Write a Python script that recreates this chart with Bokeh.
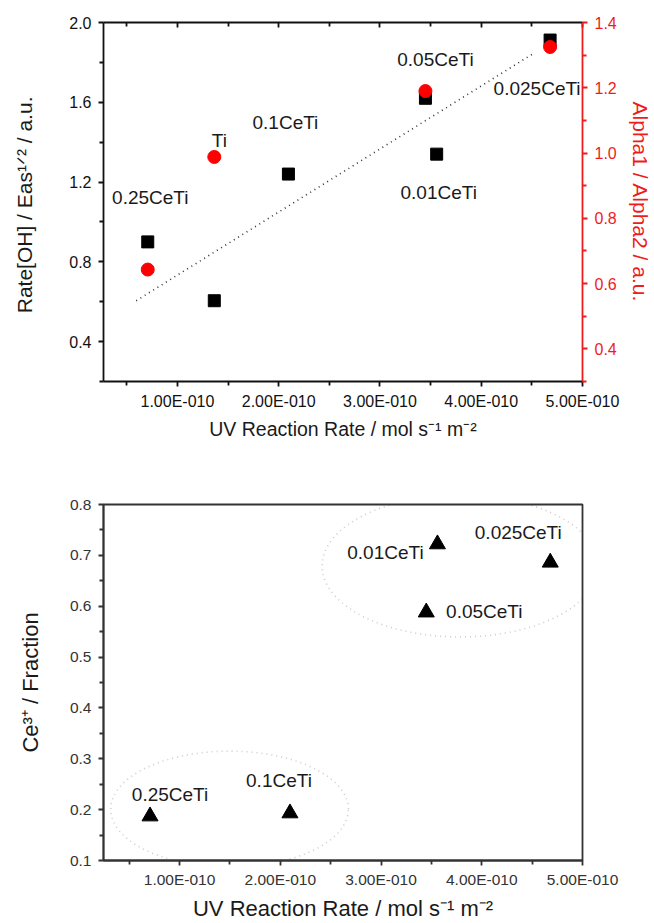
import numpy as np
from bokeh.plotting import figure
from bokeh.models import (Range1d, LinearAxis, FixedTicker, PrintfTickFormatter,
                          PolyAnnotation, ColumnDataSource)
from bokeh.layouts import column
from bokeh.embed import file_html
from bokeh.resources import INLINE
from bokeh.core.properties import value

# ---------------- data ----------------
samples = ["0.25CeTi", "Ti", "0.1CeTi", "0.05CeTi", "0.01CeTi", "0.025CeTi"]
uv_rate = [0.707e-10, 1.364e-10, 2.096e-10, 3.449e-10, 3.560e-10, 4.680e-10]
rate_oh = [0.90, 0.605, 1.24, 1.62, 1.34, 1.912]

alpha_samples = ["0.25CeTi", "Ti", "0.05CeTi", "0.025CeTi"]
alpha_ratio = [0.643, 0.988, 1.19, 1.325]

ce_samples = ["0.25CeTi", "0.1CeTi", "0.01CeTi", "0.025CeTi", "0.05CeTi"]
ce3_fraction = [0.187, 0.193, 0.722, 0.686, 0.588]

trend_uv = [0.593e-10, 4.51e-10]
trend_rate = [0.605, 1.843]

# ellipses grouping (centre uv, centre fraction, width uv, height fraction)
group_cx = [1.496e-10, 3.785e-10]
group_cy = [0.201, 0.679]
group_w = [2.36e-10, 2.74e-10]
group_h = [0.228, 0.279]

x_tick_values = [1e-10, 2e-10, 3e-10, 4e-10, 5e-10]
x_tick_labels = ["1.00E-010", "2.00E-010", "3.00E-010", "4.00E-010", "5.00E-010"]
rate_ticks = [0.4, 0.8, 1.2, 1.6, 2.0]
alpha_ticks = [0.4, 0.6, 0.8, 1.0, 1.2, 1.4]
ce_ticks = [0.1, 0.2, 0.3, 0.4, 0.5, 0.6, 0.7, 0.8]

x_title = "UV Reaction Rate / mol s\u207b\u00b9 m\u207b\u00b2"
rate_title = "Rate[OH] / Eas\u00b9\u141f\u00b2  / a.u."
alpha_title = "Alpha1 / Alpha2 / a.u."
ce_title = "Ce\u00b3\u207a / Fraction"

# ---------------- helpers ----------------
UNIT = 1e-10
FONT = "Liberation Sans"
RED = "#ee1c1c"
INK = "#1a1a1a"


def u(vals):
    return [v / UNIT for v in vals]


uv_by_sample = dict(zip(samples, uv_rate))

xt = [int(round(v / UNIT)) for v in x_tick_values]
x_minor = [t - 0.5 for t in xt]
x_over = {t: lab for t, lab in zip(xt, x_tick_labels)}


def style_axis(ax, color, fsize, tin, tout, min_in, min_out, lw=1.8, standoff=6):
    ax.axis_line_color = color
    ax.axis_line_width = lw
    ax.major_tick_line_color = color
    ax.minor_tick_line_color = color
    ax.major_tick_line_width = lw
    ax.minor_tick_line_width = lw
    ax.major_tick_in = tin
    ax.major_tick_out = tout
    ax.minor_tick_in = min_in
    ax.minor_tick_out = min_out
    ax.major_label_text_color = color
    ax.major_label_text_font = FONT
    ax.major_label_text_font_size = fsize
    ax.major_label_standoff = standoff


def title_axis(ax, text, color, fsize, standoff):
    ax.axis_label = text
    ax.axis_label_text_color = color
    ax.axis_label_text_font = FONT
    ax.axis_label_text_font_size = fsize
    ax.axis_label_text_font_style = "normal"
    ax.axis_label_standoff = standoff


# ---------------- top figure ----------------
top = figure(width=654, height=445, x_range=Range1d(0.27, 5.0), y_range=Range1d(0.2, 2.0),
             output_backend="svg", toolbar_location=None,
             x_axis_location=None, y_axis_location=None,
             min_border_left=100, min_border_right=69, min_border_top=22, min_border_bottom=64)
top.extra_y_ranges = {"alpha": Range1d(0.3, 1.4)}
top.outline_line_color = None
top.grid.visible = False

xb = LinearAxis(ticker=FixedTicker(ticks=xt, minor_ticks=x_minor),
                formatter=PrintfTickFormatter(format="%.2fE-010"),
                major_label_overrides=x_over)
style_axis(xb, "#111111", "16px", 0, 5, 0, 4)
title_axis(xb, x_title, INK, "19.5px", 5)
top.add_layout(xb, "below")

xa = LinearAxis(ticker=FixedTicker(ticks=xt, minor_ticks=x_minor),
                major_label_overrides={t: "" for t in xt})
style_axis(xa, "#111111", "0px", 5, 0, 4, 0, standoff=0)
top.add_layout(xa, "above")

yl = LinearAxis(ticker=FixedTicker(ticks=rate_ticks, minor_ticks=[0.2, 0.6, 1.0, 1.4, 1.8]),
                formatter=PrintfTickFormatter(format="%.1f"))
style_axis(yl, "#111111", "16px", 0, 5, 0, 4, standoff=7)
title_axis(yl, rate_title, INK, "21px", 30)
top.add_layout(yl, "left")

yr = LinearAxis(y_range_name="alpha",
                ticker=FixedTicker(ticks=alpha_ticks, minor_ticks=[0.3, 0.5, 0.7, 0.9, 1.1, 1.3]),
                formatter=PrintfTickFormatter(format="%.1f"))
style_axis(yr, RED, "16px", 0, 5, 0, 4, standoff=7)
title_axis(yr, alpha_title, RED, "21px", 9)
top.add_layout(yr, "right")

top.line(u(trend_uv), trend_rate, line_color="#333333", line_width=1.6, line_dash="1 4")
top.scatter(u(uv_rate), rate_oh, marker="square", size=12, color="black")
top.scatter(u([uv_by_sample[s] for s in alpha_samples]), alpha_ratio, marker="circle",
            size=13, color="#ff0000", y_range_name="alpha")

top_label_offsets = {"0.25CeTi": (2.5, -44), "Ti": (5, -160), "0.1CeTi": (-3, -52),
                     "0.05CeTi": (10, -39), "0.01CeTi": (2, 38), "0.025CeTi": (-13, 48)}
tsrc = ColumnDataSource(dict(x=u(uv_rate), y=rate_oh, t=samples,
                             dx=[top_label_offsets[s][0] for s in samples],
                             dy=[top_label_offsets[s][1] for s in samples]))
top.text(x="x", y="y", text="t", x_offset="dx", y_offset="dy", source=tsrc,
         text_font=value(FONT), text_font_size="19px", text_color=INK,
         text_align="center", text_baseline="middle")

# ---------------- bottom figure ----------------
bot = figure(width=654, height=478, x_range=Range1d(0.245, 5.0), y_range=Range1d(0.1, 0.8),
             output_backend="svg", toolbar_location=None,
             x_axis_location=None, y_axis_location=None,
             min_border_left=103, min_border_right=71, min_border_top=59, min_border_bottom=63)
bot.outline_line_color = "#333333"
bot.outline_line_width = 1.8
bot.grid.visible = False

bx = LinearAxis(ticker=FixedTicker(ticks=xt, minor_ticks=x_minor),
                formatter=PrintfTickFormatter(format="%.2fE-010"),
                major_label_overrides=x_over)
style_axis(bx, "#333333", "15.5px", 0, 5, 0, 4, standoff=5)
title_axis(bx, x_title, INK, "22px", 5)
bot.add_layout(bx, "below")

by = LinearAxis(ticker=FixedTicker(ticks=ce_ticks, minor_ticks=[0.15, 0.25, 0.35, 0.45, 0.55, 0.65, 0.75]),
                formatter=PrintfTickFormatter(format="%.1f"))
style_axis(by, "#333333", "15.5px", 0, 5, 0, 4, standoff=7)
title_axis(by, ce_title, INK, "22px", 24)
bot.add_layout(by, "left")

ce_uv = u([uv_by_sample[s] for s in ce_samples])
bot.scatter(ce_uv, ce3_fraction, marker="triangle", size=16, color="black")

bot_label_offsets = {"0.25CeTi": (20, -22), "0.1CeTi": (-11, -33), "0.01CeTi": (-52, 8),
                     "0.025CeTi": (-32, -30), "0.05CeTi": (58, -1)}
bsrc = ColumnDataSource(dict(x=ce_uv, y=ce3_fraction, t=ce_samples,
                             dx=[bot_label_offsets[s][0] for s in ce_samples],
                             dy=[bot_label_offsets[s][1] for s in ce_samples]))
bot.text(x="x", y="y", text="t", x_offset="dx", y_offset="dy", source=bsrc,
         text_font=value(FONT), text_font_size="19px", text_color=INK,
         text_align="center", text_baseline="middle")

theta = np.linspace(0, 2 * np.pi, 240)
for cx, cy, w, h in zip(group_cx, group_cy, group_w, group_h):
    xs = cx / UNIT + (w / UNIT) / 2 * np.cos(theta)
    ys = cy + h / 2 * np.sin(theta)
    bot.add_layout(PolyAnnotation(xs=list(xs), ys=list(ys), xs_units="data", ys_units="data",
                                  fill_color=None, fill_alpha=0, line_color="#555555",
                                  line_width=1.6, line_dash="1 4"))

layout = column(top, bot)
open("out.html", "w").write(file_html(layout, INLINE))
